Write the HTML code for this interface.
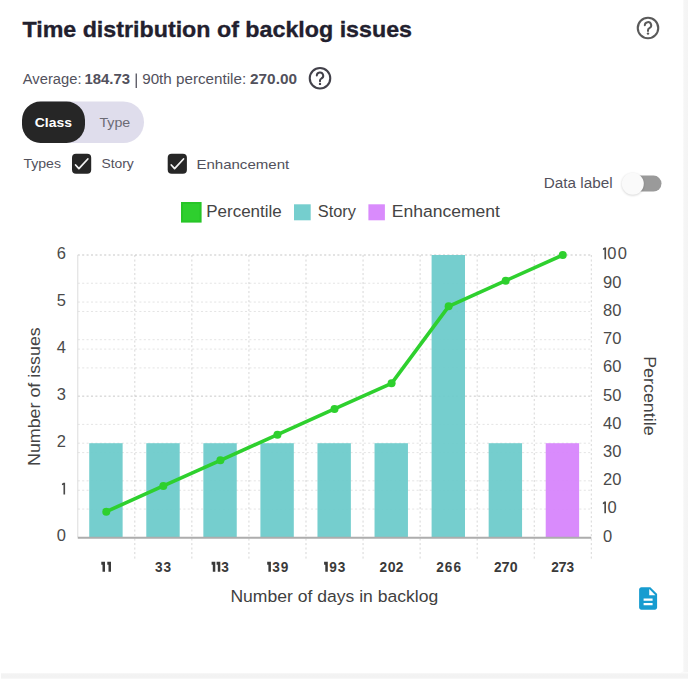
<!DOCTYPE html>
<html><head><meta charset="utf-8">
<style>
html,body{margin:0;padding:0;width:688px;height:679px;overflow:hidden;background:#fff;}
body{position:relative;font-family:"Liberation Sans",sans-serif;}
.shR{position:absolute;left:682px;top:0;width:6px;height:678px;background:linear-gradient(to right,#fdfdfd,#f5f5f5 45%,#f4f4f4);}
.shB{position:absolute;left:1px;top:671.5px;width:687px;height:7px;background:linear-gradient(to bottom,#fcfcfc,#f3f3f3 35%,#f2f2f2 75%,#f9f9f9);}
.card{position:absolute;left:0;top:0;width:683px;height:672.5px;background:#fff;border-bottom-right-radius:4px;}
svg{position:absolute;left:0;top:0;}
</style></head>
<body>
<div class="shR"></div><div class="shB"></div>
<div class="card"></div>
<svg width="688" height="679" viewBox="0 0 688 679" font-family="Liberation Sans, sans-serif">
<defs><filter id="blur" x="-50%" y="-50%" width="200%" height="200%"><feGaussianBlur stdDeviation="1.2"/></filter></defs>
<rect x="22" y="101.5" width="122" height="41.5" rx="20.75" fill="#dfddec"/><rect x="22" y="101.5" width="63" height="41.5" rx="18.5" fill="#262626"/><rect x="72" y="153.7" width="19.2" height="20" rx="4" fill="#262626"/><path d="M75.6 165L78.9 168.6L87.8 159" fill="none" stroke="#f4f4f4" stroke-width="1.75" stroke-linecap="round" stroke-linejoin="round"/><rect x="167.7" y="153.7" width="19.2" height="20" rx="4" fill="#262626"/><path d="M171.29999999999998 165L174.6 168.6L183.5 159" fill="none" stroke="#f4f4f4" stroke-width="1.75" stroke-linecap="round" stroke-linejoin="round"/><rect x="627" y="175.6" width="34.5" height="16" rx="8" fill="#9a9a9a"/><circle cx="632.8" cy="184.4" r="11" fill="#000" fill-opacity="0.18" filter="url(#blur)"/><circle cx="632.8" cy="183.7" r="11" fill="#fafafa"/>
<circle cx="648" cy="28" r="10.25" fill="none" stroke="#5a5a5a" stroke-width="2.1"/><path d="M644.8 25.3a3.2 3.2 0 1 1 4.6 2.9c-.9.5-1.4 1.1-1.4 2.1v.7" fill="none" stroke="#5a5a5a" stroke-width="2" stroke-linecap="round"/><circle cx="648" cy="33.6" r="1.2" fill="#5a5a5a"/><circle cx="320" cy="78.3" r="10.25" fill="none" stroke="#42414a" stroke-width="2.1"/><path d="M316.8 75.6a3.2 3.2 0 1 1 4.6 2.9c-.9.5-1.4 1.1-1.4 2.1v.7" fill="none" stroke="#42414a" stroke-width="2" stroke-linecap="round"/><circle cx="320" cy="83.89999999999999" r="1.2" fill="#42414a"/>
<rect x="182" y="203" width="18.6" height="18.6" fill="#2ecf2e" stroke="#27c527" stroke-width="2"/><rect x="294" y="204.3" width="16.7" height="16" fill="#75cece"/><rect x="368.4" y="204.3" width="16.5" height="16" fill="#d98bfc"/>
<g stroke="#000" stroke-opacity="0.11" stroke-width="1" stroke-dasharray="2.1 2.3" fill="none"><line x1="77.75" y1="490.25" x2="591.3" y2="490.25"/><line x1="77.75" y1="443.20" x2="591.3" y2="443.20"/><line x1="77.75" y1="396.15" x2="591.3" y2="396.15"/><line x1="77.75" y1="349.10" x2="591.3" y2="349.10"/><line x1="77.75" y1="302.05" x2="591.3" y2="302.05"/><line x1="77.75" y1="255.00" x2="591.3" y2="255.00"/><line x1="77.75" y1="509.07" x2="591.3" y2="509.07"/><line x1="77.75" y1="480.84" x2="591.3" y2="480.84"/><line x1="77.75" y1="452.61" x2="591.3" y2="452.61"/><line x1="77.75" y1="424.38" x2="591.3" y2="424.38"/><line x1="77.75" y1="396.15" x2="591.3" y2="396.15"/><line x1="77.75" y1="367.92" x2="591.3" y2="367.92"/><line x1="77.75" y1="339.69" x2="591.3" y2="339.69"/><line x1="77.75" y1="311.46" x2="591.3" y2="311.46"/><line x1="77.75" y1="283.23" x2="591.3" y2="283.23"/><line x1="77.75" y1="255.00" x2="591.3" y2="255.00"/></g><g stroke="#000" stroke-opacity="0.16" stroke-width="1" stroke-dasharray="2.1 2.4" fill="none"><line x1="134.81" y1="255.0" x2="134.81" y2="559"/><line x1="191.87" y1="255.0" x2="191.87" y2="559"/><line x1="248.93" y1="255.0" x2="248.93" y2="559"/><line x1="305.99" y1="255.0" x2="305.99" y2="559"/><line x1="363.06" y1="255.0" x2="363.06" y2="559"/><line x1="420.12" y1="255.0" x2="420.12" y2="559"/><line x1="477.18" y1="255.0" x2="477.18" y2="559"/><line x1="534.24" y1="255.0" x2="534.24" y2="559"/><line x1="591.30" y1="255.0" x2="591.30" y2="559"/></g><rect x="89.23" y="443.20" width="33.4" height="94.10" fill="#6bcaca" fill-opacity="0.93"/><rect x="146.29" y="443.20" width="33.4" height="94.10" fill="#6bcaca" fill-opacity="0.93"/><rect x="203.35" y="443.20" width="33.4" height="94.10" fill="#6bcaca" fill-opacity="0.93"/><rect x="260.41" y="443.20" width="33.4" height="94.10" fill="#6bcaca" fill-opacity="0.93"/><rect x="317.47" y="443.20" width="33.4" height="94.10" fill="#6bcaca" fill-opacity="0.93"/><rect x="374.54" y="443.20" width="33.4" height="94.10" fill="#6bcaca" fill-opacity="0.93"/><rect x="431.60" y="255.00" width="33.4" height="282.30" fill="#6bcaca" fill-opacity="0.93"/><rect x="488.66" y="443.20" width="33.4" height="94.10" fill="#6bcaca" fill-opacity="0.93"/><rect x="545.72" y="443.20" width="33.4" height="94.10" fill="#d682fc" fill-opacity="0.93"/><line x1="77.8" y1="255.0" x2="77.8" y2="537.3" stroke="#dcdcdc" stroke-width="1"/><line x1="77.75" y1="537.8" x2="591.3" y2="537.8" stroke="#adadad" stroke-width="2"/><polyline points="106.28,511.64 163.34,485.97 220.40,460.31 277.46,434.65 334.52,408.98 391.59,383.32 448.65,306.33 505.71,280.66 562.77,255.00" fill="none" stroke="#2ed02e" stroke-width="3.6" stroke-linejoin="round"/><circle cx="106.28" cy="511.64" r="4" fill="#2ed02e"/><circle cx="163.34" cy="485.97" r="4" fill="#2ed02e"/><circle cx="220.40" cy="460.31" r="4" fill="#2ed02e"/><circle cx="277.46" cy="434.65" r="4" fill="#2ed02e"/><circle cx="334.52" cy="408.98" r="4" fill="#2ed02e"/><circle cx="391.59" cy="383.32" r="4" fill="#2ed02e"/><circle cx="448.65" cy="306.33" r="4" fill="#2ed02e"/><circle cx="505.71" cy="280.66" r="4" fill="#2ed02e"/><circle cx="562.77" cy="255.00" r="4" fill="#2ed02e"/><g font-size="16.5" fill="#4a4a4a"><text x="66" y="541.40" text-anchor="end">0</text><path d="M61.95 483.85L63.45 482.75H65.10V494.55H63.45V484.85L61.95 485.35Z"/><text x="66" y="447.30" text-anchor="end">2</text><text x="66" y="400.25" text-anchor="end">3</text><text x="66" y="353.20" text-anchor="end">4</text><text x="66" y="306.15" text-anchor="end">5</text><text x="66" y="259.10" text-anchor="end">6</text><text x="603" y="541.70">0</text><path d="M602.85 502.67L604.35 501.57H606.00V513.37H604.35V503.67L602.85 504.17Z"/><text x="607.55" y="513.37">0</text><text x="603" y="485.24">20</text><text x="603" y="457.01">30</text><text x="603" y="428.78">40</text><text x="603" y="400.55">50</text><text x="603" y="372.32">60</text><text x="603" y="344.09">70</text><text x="603" y="315.86">80</text><text x="603" y="287.63">90</text><path d="M602.95 248.60L604.45 247.50H606.10V259.30H604.45V249.60L602.95 250.10Z"/><text x="607.35" y="259.30">0</text><text x="617.65" y="259.30">0</text></g>
<text x="22.40" y="37.00" font-size="22.75" font-weight="bold" stroke="#22202e" stroke-width="0.35" textLength="389.60" lengthAdjust="spacingAndGlyphs" fill="#22202e">Time distribution of backlog issues</text><text x="22.80" y="84.30" font-size="13.91" textLength="58.80" lengthAdjust="spacingAndGlyphs" fill="#52515c">Average:</text><text x="84.40" y="84.30" font-size="13.91" font-weight="bold" textLength="45.60" lengthAdjust="spacingAndGlyphs" fill="#52515c">184.73</text><text x="142.20" y="84.30" font-size="13.91" textLength="104.00" lengthAdjust="spacingAndGlyphs" fill="#52515c">90th percentile:</text><text x="250.00" y="84.30" font-size="13.91" font-weight="bold" textLength="47.00" lengthAdjust="spacingAndGlyphs" fill="#52515c">270.00</text><text x="34.80" y="126.90" font-size="13.48" font-weight="bold" textLength="37.20" lengthAdjust="spacingAndGlyphs" fill="#ffffff">Class</text><text x="99.40" y="126.90" font-size="13.48" textLength="30.80" lengthAdjust="spacingAndGlyphs" fill="#6c6b75">Type</text><text x="23.40" y="167.80" font-size="13.04" textLength="37.60" lengthAdjust="spacingAndGlyphs" fill="#52515c">Types</text><text x="101.40" y="168.20" font-size="13.04" textLength="32.40" lengthAdjust="spacingAndGlyphs" fill="#52515c">Story</text><text x="196.40" y="168.60" font-size="13.62" textLength="92.80" lengthAdjust="spacingAndGlyphs" fill="#52515c">Enhancement</text><text x="543.80" y="188.30" font-size="13.91" textLength="68.80" lengthAdjust="spacingAndGlyphs" fill="#52515c">Data label</text><text x="206.20" y="216.90" font-size="16.67" textLength="75.60" lengthAdjust="spacingAndGlyphs" fill="#444">Percentile</text><text x="317.80" y="216.90" font-size="16.67" textLength="38.20" lengthAdjust="spacingAndGlyphs" fill="#444">Story</text><text x="391.80" y="216.90" font-size="16.67" textLength="108.20" lengthAdjust="spacingAndGlyphs" fill="#444">Enhancement</text><text x="230.40" y="601.80" font-size="16.52" textLength="207.80" lengthAdjust="spacingAndGlyphs" fill="#3f3f3f">Number of days in backlog</text><text transform="translate(39.70,466.00) rotate(-90)" font-size="15.80" textLength="138.80" lengthAdjust="spacingAndGlyphs" fill="#444">Number of issues</text><text transform="translate(643.80,356.20) rotate(90)" font-size="16.09" textLength="79.40" lengthAdjust="spacingAndGlyphs" fill="#444">Percentile</text><g fill="#3a3a3a"><path d="M101.30 561.70H105.00V571.80H102.50V564.70H101.30Z"/><path d="M107.30 561.70H111.00V571.80H108.50V564.70H107.30Z"/><text transform="translate(154.94,571.80) scale(0.924,1)" font-size="14.78" font-weight="bold">3</text><text transform="translate(163.54,571.80) scale(0.924,1)" font-size="14.78" font-weight="bold">3</text><path d="M211.60 561.70H215.30V571.80H212.80V564.70H211.60Z"/><path d="M216.60 561.70H220.30V571.80H217.80V564.70H216.60Z"/><text transform="translate(221.14,571.80) scale(0.924,1)" font-size="14.78" font-weight="bold">3</text><path d="M267.20 561.70H270.90V571.80H268.40V564.70H267.20Z"/><text transform="translate(272.24,571.80) scale(0.924,1)" font-size="14.78" font-weight="bold">3</text><text transform="translate(280.74,571.80) scale(0.924,1)" font-size="14.78" font-weight="bold">9</text><path d="M324.10 561.70H327.80V571.80H325.30V564.70H324.10Z"/><text transform="translate(329.19,571.80) scale(0.924,1)" font-size="14.78" font-weight="bold">9</text><text transform="translate(337.74,571.80) scale(0.924,1)" font-size="14.78" font-weight="bold">3</text><text transform="translate(379.54,571.80) scale(0.924,1)" font-size="14.78" font-weight="bold">2</text><text transform="translate(387.67,571.80) scale(0.957,1)" font-size="14.78" font-weight="bold">0</text><text transform="translate(395.84,571.80) scale(0.924,1)" font-size="14.78" font-weight="bold">2</text><text transform="translate(436.14,571.80) scale(0.924,1)" font-size="14.78" font-weight="bold">2</text><text transform="translate(444.79,571.80) scale(0.924,1)" font-size="14.78" font-weight="bold">6</text><text transform="translate(453.44,571.80) scale(0.924,1)" font-size="14.78" font-weight="bold">6</text><text transform="translate(494.04,571.80) scale(0.924,1)" font-size="14.78" font-weight="bold">2</text><text transform="translate(501.61,571.80) scale(0.993,1)" font-size="14.78" font-weight="bold">7</text><text transform="translate(509.72,571.80) scale(0.957,1)" font-size="14.78" font-weight="bold">0</text><text transform="translate(551.14,571.80) scale(0.924,1)" font-size="14.78" font-weight="bold">2</text><text transform="translate(558.51,571.80) scale(0.993,1)" font-size="14.78" font-weight="bold">7</text><text transform="translate(566.44,571.80) scale(0.924,1)" font-size="14.78" font-weight="bold">3</text></g>
<rect x="135.6" y="73.5" width="1.3" height="14.5" fill="#52515c"/>
<g transform="translate(634.6,585) scale(1.125)" fill="#179cd0"><path d="M14 2H6c-1.1 0-1.99.9-1.99 2L4 20c0 1.1.89 2 1.99 2H18c1.1 0 2-.9 2-2V8l-6-6zm2 16H8v-2h8v2zm0-4H8v-2h8v2zm-3-5V3.5L18.5 9H13z"/></g>
</svg>
</body></html>
